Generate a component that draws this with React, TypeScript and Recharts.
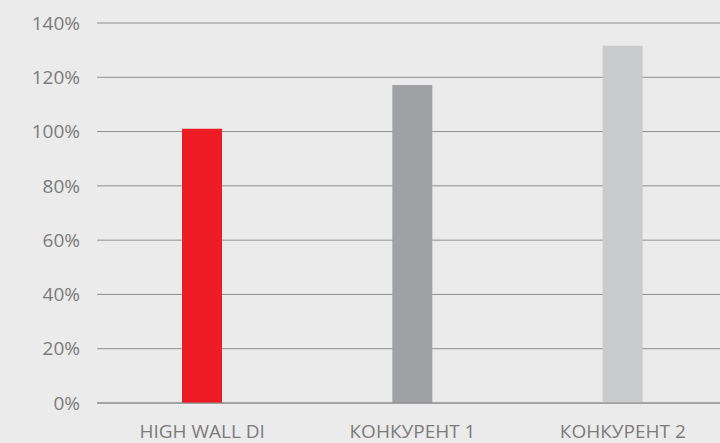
import React from "react";
import { BarChart, Bar, XAxis, YAxis, CartesianGrid, Cell } from "recharts";

const categories = ["HIGH WALL DI", "КОНКУРЕНТ 1", "КОНКУРЕНТ 2"];
const values = [101, 117.2, 131.6];
const colors = ["#ed1c24", "#a0a1a4", "#c9cacc"];
const yTicks = [0, 20, 40, 60, 80, 100, 120, 140];

const data = categories.map((name, i) => ({ name, value: values[i] }));

export default function App() {
  return (
    <div style={{ position: "fixed", top: 0, left: 0, width: 720, height: 443, overflow: "hidden", background: "#ebebeb" }}>
      <BarChart
        width={728}
        height={443}
        data={data}
        margin={{ top: 23, right: 0, bottom: 0, left: 0 }}
      >
        <CartesianGrid vertical={false} stroke="#8e8e8e" strokeWidth={1} />
        <XAxis
          dataKey="name"
          axisLine={{ stroke: "#8a8a8a" }}
          tickLine={false}
          height={40}
          tickMargin={16}
          tick={{ fill: "#7b7b7b", fontSize: 19, fontFamily: "Open Sans" }}
        />
        <YAxis
          domain={[0, 140]}
          ticks={yTicks}
          width={97}
          axisLine={false}
          tickLine={false}
          tickMargin={11}
          tickFormatter={(v: number) => `${v}%`}
          tick={{ fill: "#7b7b7b", fontSize: 19, fontFamily: "Open Sans" }}
        />
        <Bar dataKey="value" barSize={40} isAnimationActive={false}>
          {data.map((d, i) => (
            <Cell key={d.name} fill={colors[i]} />
          ))}
        </Bar>
      </BarChart>
    </div>
  );
}
